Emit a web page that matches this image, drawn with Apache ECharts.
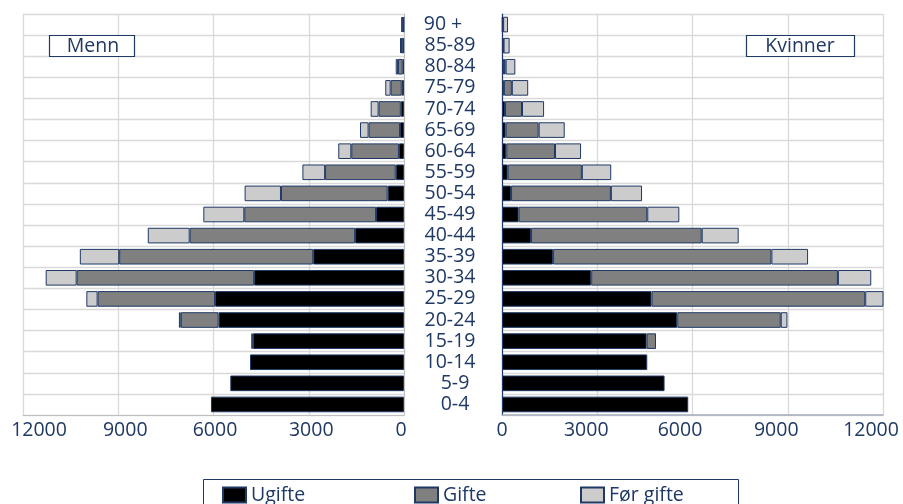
<!DOCTYPE html>
<html><head><meta charset="utf-8">
<script src="https://cdn.jsdelivr.net/npm/echarts/dist/echarts.min.js"></script>
<style>html,body{margin:0;padding:0;background:#fff}#c{width:903px;height:504px}</style>
</head><body><div id="c"></div>
<script>
const ages = ['0-4','5-9','10-14','15-19','20-24','25-29','30-34','35-39','40-44','45-49','50-54','55-59','60-64','65-69','70-74','75-79','80-84','85-89','90 +'];
const axisTicks = [0, 3000, 6000, 9000, 12000];

const mennUgifte = [6080, 5470, 4850, 4760, 5840, 5950, 4720, 2860, 1540, 880, 515, 260, 160, 125, 100, 70, 40, 25, 15];
const mennGifte  = [0, 0, 0, 50, 1190, 3700, 5590, 6110, 5210, 4150, 3360, 2225, 1500, 990, 700, 350, 150, 70, 40];
const mennFor    = [0, 0, 0, 0, 60, 355, 975, 1240, 1320, 1290, 1145, 715, 410, 270, 250, 170, 70, 30, 25];

const kvinnerUgifte = [5865, 5120, 4575, 4555, 5520, 4710, 2810, 1610, 915, 525, 285, 180, 135, 115, 95, 60, 60, 30, 20];
const kvinnerGifte  = [0, 0, 0, 295, 3260, 6730, 7770, 6875, 5375, 4050, 3145, 2335, 1535, 1040, 535, 250, 55, 20, 15];
const kvinnerFor    = [0, 0, 0, 0, 210, 650, 1050, 1155, 1165, 1010, 980, 925, 820, 820, 695, 515, 305, 190, 155];

const NAVY = '#1F3864';
const FONT = 'Open Sans';
const GRIDC = '#D9D9D9';
const FS = 19.5;
const colors = {Ugifte: '#000000', Gifte: '#808080', 'Før gifte': '#CCCCCC'};

function bar(name, data, xi, stack) {
  return {
    type: 'bar', name: name, stack: stack, xAxisIndex: xi, yAxisIndex: xi,
    data: data.map(v => v || '-'),
    barCategoryGap: '26%',
    itemStyle: {color: colors[name], borderColor: NAVY, borderWidth: 1},
    emphasis: {disabled: true}, silent: true
  };
}
function rs(pad) { return {fontSize: FS, fontFamily: FONT, color: NAVY, padding: pad}; }

const chart = echarts.init(document.getElementById('c'), null, {renderer: 'canvas'});
const txt = {color: NAVY, fontFamily: FONT, fontSize: FS};

const option = {
  animation: false,
  backgroundColor: '#fff',
  textStyle: {fontFamily: FONT, color: NAVY},
  grid: [
    {left: 23, right: 499, top: 14, bottom: 89, containLabel: false, outerBoundsMode: 'none'},
    {left: 502, right: 20, top: 14, bottom: 89, containLabel: false, outerBoundsMode: 'none'}
  ],
  xAxis: [
    {type: 'value', gridIndex: 0, inverse: true, min: 0, max: 12000, interval: 3000,
     axisLine: {show: true, lineStyle: {color: '#BFBFBF', width: 1}}, axisTick: {show: false},
     splitLine: {show: true, lineStyle: {color: GRIDC, width: 1.3}},
     axisLabel: {margin: 5, fontSize: FS, fontFamily: FONT, color: NAVY,
       formatter: v => '{t' + v + '|' + v + '}',
       rich: {t0: rs([0, 6, 0, 0]), t3000: rs([0, 0, 0, 5]), t6000: rs([0, 0, 0, 3]),
              t9000: rs([0, 0, 0, 14]), t12000: rs([0, 0, 0, 32])}}},
    {type: 'value', gridIndex: 1, min: 0, max: 12000, interval: 3000,
     axisLine: {show: true, lineStyle: {color: '#A5AEBF', width: 1.5}}, axisTick: {show: false},
     splitLine: {show: true, lineStyle: {color: GRIDC, width: 1.3}},
     axisLabel: {margin: 5, fontSize: FS, fontFamily: FONT, color: NAVY,
       formatter: v => '{t' + v + '|' + v + '}',
       rich: {t0: rs([0, 0, 0, 0]), t3000: rs([0, 22, 0, 0]), t6000: rs([0, 25, 0, 0]),
              t9000: rs([0, 23, 0, 0]), t12000: rs([0, 24, 0, 0])}}}
  ],
  yAxis: [
    {type: 'category', gridIndex: 0, data: ages, position: 'right',
     axisLine: {show: true, lineStyle: {color: '#BFBFBF'}}, axisTick: {show: false},
     axisLabel: {show: false},
     splitLine: {show: true, interval: 0, lineStyle: {color: GRIDC, width: 1.3}}},
    {type: 'category', gridIndex: 1, data: ages, position: 'left',
     axisLine: {show: true, lineStyle: {color: NAVY, width: 1.2}}, axisTick: {show: false},
     axisLabel: {show: true, interval: 0, margin: 52, align: 'center', fontSize: FS, fontFamily: FONT, color: NAVY,
       formatter: v => v === '90 +' ? '{a|' + v + '}' : (v.length === 3 ? '{b|' + v + '}' : '{c|' + v + '}'),
       rich: {a: rs([0, 14, 0, 0]), b: rs([0, 0, 0, 10]), c: rs([0, 0, 0, 0])}},
     splitLine: {show: true, interval: 0, lineStyle: {color: GRIDC, width: 1.3}}}
  ],
  legend: [
    {data: ['Ugifte'], left: 222, top: 485, itemWidth: 23, itemHeight: 15, itemGap: 0, padding: 0,
     selectedMode: false, textStyle: txt, icon: 'rect'},
    {data: ['Gifte'], left: 414, top: 485, itemWidth: 23, itemHeight: 15, itemGap: 0, padding: 0,
     selectedMode: false, textStyle: txt, icon: 'rect'},
    {data: ['Før gifte'], left: 580, top: 485, itemWidth: 23, itemHeight: 15, itemGap: 0, padding: 0,
     selectedMode: false, textStyle: txt, icon: 'rect'}
  ],
  graphic: [
    {type: 'rect', shape: {x: 203.5, y: 479.5, width: 535, height: 40}, style: {fill: 'none', stroke: NAVY, lineWidth: 1}, silent: true},
    {type: 'rect', shape: {x: 49.5, y: 35.5, width: 85, height: 21}, style: {fill: '#fff', stroke: NAVY, lineWidth: 1.2}, silent: true, z: 10},
    {type: 'text', x: 93, y: 46, style: {text: 'Menn', fill: NAVY, font: FS + 'px "Open Sans"', textAlign: 'center', textVerticalAlign: 'middle'}, silent: true, z: 11},
    {type: 'rect', shape: {x: 746.5, y: 35.5, width: 108, height: 21}, style: {fill: '#fff', stroke: NAVY, lineWidth: 1.2}, silent: true, z: 10},
    {type: 'text', x: 800, y: 46, style: {text: 'Kvinner', fill: NAVY, font: FS + 'px "Open Sans"', textAlign: 'center', textVerticalAlign: 'middle'}, silent: true, z: 11}
  ],
  series: [
    bar('Ugifte', mennUgifte, 0, 'm'),
    bar('Gifte', mennGifte, 0, 'm'),
    bar('Før gifte', mennFor, 0, 'm'),
    bar('Ugifte', kvinnerUgifte, 1, 'k'),
    bar('Gifte', kvinnerGifte, 1, 'k'),
    bar('Før gifte', kvinnerFor, 1, 'k')
  ]
};
chart.setOption(option);
</script>
</body></html>
